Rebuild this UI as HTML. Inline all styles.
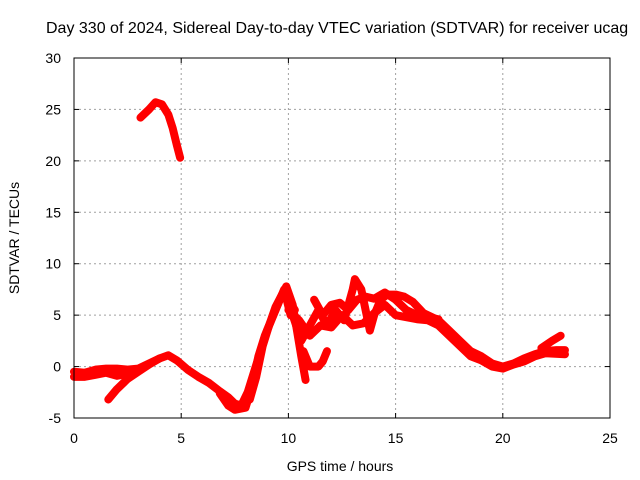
<!DOCTYPE html>
<html><head><meta charset="utf-8"><style>
html,body{margin:0;padding:0;background:#fff;width:640px;height:480px;overflow:hidden}
svg text{font-family:"Liberation Sans",sans-serif;fill:#000}
</style></head><body>
<svg id="chart" width="640" height="480">
<text x="46" y="33" font-size="16">Day 330 of 2024, Sidereal Day-to-day VTEC variation (SDTVAR) for receiver ucag</text>
<text transform="translate(19,238) rotate(-90)" text-anchor="middle" font-size="14">SDTVAR / TECUs</text>
<text x="340" y="471" text-anchor="middle" font-size="14">GPS time / hours</text>
<g id="grid"></g><g id="ticks"></g><g id="series"></g>
<rect x="74" y="58" width="536" height="360" fill="none" stroke="#000" stroke-width="1"/>
</svg>
<script>
const xTicks=[0,5,10,15,20,25];
const yTicks=[-5,0,5,10,15,20,25,30];
const trackA=[[3.1,24.2],[3.5,25.0],[3.8,25.7],[4.1,25.5],[4.4,24.5],[4.6,23.2],[4.8,21.5],[4.95,20.3]];
const trackB=[[0,-0.5],[0.5,-0.6],[1,-0.3],[1.5,-0.2],[2,-0.2],[2.5,-0.3],[3,-0.2],[3.5,0.3],[4,0.8],[4.4,1.1],[4.8,0.6],[5.3,-0.3],[5.8,-1.0],[6.3,-1.6],[6.8,-2.4],[7.2,-3.0],[7.5,-3.6],[7.8,-3.8],[8.1,-2.5],[8.4,-0.5],[8.7,1.5],[9.0,3.5],[9.3,5.0],[9.6,6.5],[9.9,7.8],[10.2,6.0],[10.4,3.5],[10.6,1.0],[10.8,-1.3]];
const trackC=[[1.6,-3.2],[2,-2.2],[2.5,-1.2],[3,-0.5],[3.5,0.2],[4,0.8]];
const trackD=[[0,-1.0],[0.5,-1.0],[1,-0.8],[1.5,-0.6],[2,-0.9],[2.5,-0.7],[3,-0.4]];
const trackE=[[6.8,-2.6],[7.2,-3.8],[7.5,-4.2],[8.0,-4.0],[8.3,-2.0],[8.6,1.0],[8.9,3.0],[9.2,4.5],[9.5,6.0],[9.8,7.5],[10.1,5.0]];
const trackF=[[10.2,5.0],[10.6,2.5],[11.0,4.0],[11.4,5.5],[11.8,4.0],[12.2,5.5],[12.6,4.5],[13.0,7.5],[13.1,8.5],[13.4,7.5],[13.6,5.5],[13.8,3.5],[14.0,5.0],[14.3,6.5],[14.6,7.0],[15.0,7.0],[15.4,6.8],[15.8,6.3],[16.3,5.2],[17.0,4.5],[17.5,3.5],[18.0,2.5],[18.5,1.5],[19.0,1.0],[19.5,0.3],[20.0,0.0],[20.5,0.3],[21.0,0.8],[21.5,1.2],[22.0,1.5],[22.5,1.6],[22.9,1.6]];
const trackG=[[10.0,5.5],[10.5,4.5],[11.0,3.0],[11.5,4.0],[12.0,3.8],[12.5,5.0],[13.0,4.0],[13.5,4.2],[14.0,5.2],[14.5,6.0],[15.0,5.0],[15.5,4.8],[16.0,4.6],[16.5,4.5],[17.0,4.0],[17.5,3.0],[18.0,2.0],[18.5,1.0],[19.0,0.6],[19.5,0.0],[20.0,-0.2],[20.5,0.2],[21.0,0.5],[21.5,1.0],[22.0,1.3],[22.9,1.2]];
const trackH=[[10.7,1.5],[11.0,0.0],[11.4,0.0],[11.6,0.5],[11.8,1.5]];
const trackI=[[21.8,1.8],[22.3,2.5],[22.7,3.0]];
const trackJ=[[8.2,-3.2],[8.5,-1.0],[8.8,2.0],[9.1,4.0],[9.4,5.8],[9.7,7.0],[10.0,6.5],[10.3,5.5]];
const trackK=[[11.2,6.5],[11.6,5.0],[12.0,6.0],[12.4,6.2],[12.8,5.5],[13.2,6.5],[13.6,6.8],[14.0,6.6],[14.5,7.2],[15.0,6.5],[15.5,5.5],[16.0,5.0],[16.5,4.8],[17.0,4.6]];
const tracks=[trackA,trackB,trackC,trackD,trackE,trackF,trackG,trackH,trackI,trackJ,trackK];
const NS="http://www.w3.org/2000/svg";
const X=h=>74+h*536/25;
const Y=v=>418-(v+5)*360/35;
const grid=document.getElementById('grid'),ticks=document.getElementById('ticks'),ser=document.getElementById('series');
function mk(tag,attrs,parent){const e=document.createElementNS(NS,tag);for(const k in attrs)e.setAttribute(k,attrs[k]);parent.appendChild(e);return e;}
xTicks.forEach(t=>{
 if(t>0&&t<25){const g=mk('line',{x1:X(t),x2:X(t),y1:58,y2:418,stroke:'#a0a0a0','stroke-dasharray':'2,3'},grid);
 
 }
 mk('line',{x1:X(t),x2:X(t),y1:418,y2:413,stroke:'#000'},ticks);
 mk('line',{x1:X(t),x2:X(t),y1:58,y2:63,stroke:'#000'},ticks);
 const l=mk('text',{x:X(t),y:443,'text-anchor':'middle','font-size':'14'},ticks);l.textContent=t;
 
 
});
yTicks.forEach(t=>{
 if(t>-5&&t<30){const g=mk('line',{x1:74,x2:610,y1:Y(t),y2:Y(t),stroke:'#a0a0a0','stroke-dasharray':'2,3'},grid);
 
 }
 mk('line',{x1:74,x2:79,y1:Y(t),y2:Y(t),stroke:'#000'},ticks);
 mk('line',{x1:605,x2:610,y1:Y(t),y2:Y(t),stroke:'#000'},ticks);
 const l=mk('text',{x:61,y:Y(t)+5,'text-anchor':'end','font-size':'14'},ticks);l.textContent=t;
 
 
});
tracks.forEach(tr=>{
 const p=mk('polyline',{points:tr.map(d=>X(d[0])+','+Y(d[1])).join(' '),fill:'none',stroke:'#ff0000','stroke-width':'8','stroke-linejoin':'round','stroke-linecap':'round'},ser);
 
 
});
</script>
</body></html>
